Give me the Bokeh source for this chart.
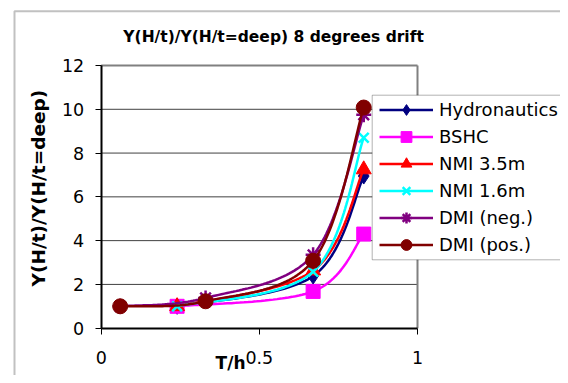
import numpy as np
from bokeh.plotting import figure
from bokeh.models import Range1d, FixedTicker, Legend, LegendItem, BoxAnnotation, Label
from bokeh.embed import file_html
from bokeh.resources import INLINE

# ---- data ----
title_text = "Y(H/t)/Y(H/t=deep) 8 degrees drift"
x_title = "T/h"
y_title = "Y(H/t)/Y(H/t=deep)"
x_ticks = [0, 0.5, 1]
x_tick_labels = ["0", "0.5", "1"]
y_ticks = [0, 2, 4, 6, 8, 10, 12]
x_lo, x_hi = 0, 1
y_lo, y_hi = 0, 12

names = ["Hydronautics", "BSHC", "NMI 3.5m", "NMI 1.6m", "DMI (neg.)", "DMI (pos.)"]
hydro_x = [0.24, 0.67, 0.83]
hydro_y = [1.0, 2.38, 6.95]
bshc_x = [0.24, 0.67, 0.83]
bshc_y = [1.0, 1.68, 4.3]
nmi35_x = [0.24, 0.67, 0.83]
nmi35_y = [1.0, 2.63, 7.25]
nmi16_x = [0.24, 0.67, 0.83]
nmi16_y = [1.0, 2.58, 8.7]
dmineg_x = [0.06, 0.33, 0.67, 0.83]
dmineg_y = [1.0, 1.38, 3.35, 9.75]
dmipos_x = [0.06, 0.33, 0.67, 0.83]
dmipos_y = [1.0, 1.23, 3.08, 10.08]

FONT = "DejaVu Sans"
W, H = 560, 375
# pixel placement of the plot area
PX0, PX1 = 100.7, 417.0      # x = 0 and x = 1
PY0, PY1 = 327.7, 65.0       # y = 0 and y = 12 (from top)
kx = (PX1 - PX0) / (x_hi - x_lo)
ky = (PY0 - PY1) / (y_hi - y_lo)
xr = Range1d(x_lo - PX0 / kx, x_lo + (W - PX0) / kx)
yr = Range1d(y_lo - (H - PY0) / ky, y_lo + PY0 / ky)


def smooth(xs, ys, n=40):
    P = np.column_stack([xs, ys]).astype(float)
    m = len(P)
    pts = [P[0]]
    t = np.linspace(0, 1, n)[1:][:, None]
    for i in range(m - 1):
        p0 = P[i - 1] if i > 0 else P[i]
        p1, p2 = P[i], P[i + 1]
        p3 = P[i + 2] if i + 2 < m else P[i + 1]
        c1 = p1 + (p2 - p0) / 6.0
        c2 = p2 - (p3 - p1) / 6.0
        seg = ((1 - t) ** 3) * p1 + 3 * ((1 - t) ** 2) * t * c1 + 3 * (1 - t) * t ** 2 * c2 + t ** 3 * p2
        pts.extend(seg)
    pts = np.array(pts)
    return pts[:, 0], pts[:, 1]


p = figure(width=W, height=H, output_backend="svg", toolbar_location=None,
           x_range=xr, y_range=yr, min_border=0)
p.background_fill_color = "white"
p.border_fill_color = "white"
p.outline_line_color = None
p.xgrid.grid_line_color = None
p.ygrid.grid_line_color = None

p.xaxis.ticker = FixedTicker(ticks=x_ticks)
p.xaxis.major_label_overrides = {t: l for t, l in zip(x_ticks, x_tick_labels)}
p.yaxis.ticker = FixedTicker(ticks=y_ticks)
p.xaxis.fixed_location = y_lo
p.yaxis.fixed_location = x_lo
p.xaxis.bounds = (x_lo, x_hi)
p.yaxis.bounds = (y_lo, y_hi)
for ax in (p.xaxis, p.yaxis):
    ax.axis_line_color = "black"
    ax.axis_line_width = 2
    ax.major_tick_line_color = "black"
    ax.major_tick_line_width = 1
    ax.major_tick_out = 6
    ax.major_tick_in = 0
    ax.minor_tick_line_color = None
    ax.major_label_text_font = FONT
    ax.major_label_text_font_size = "17.5px"
    ax.major_label_text_color = "black"
p.xaxis.major_label_standoff = 17
p.yaxis.major_label_standoff = 11

# outer chart border (screen units from frame bottom-left)
p.add_layout(BoxAnnotation(left=14, right=900, top=H - 10.7, bottom=-300,
                           left_units="screen", right_units="screen", top_units="screen", bottom_units="screen",
                           fill_alpha=0, line_color="#333333", line_width=2))

# horizontal gridlines and plot-area border
inner = [v for v in y_ticks if y_lo < v < y_hi]
p.segment(x0=[x_lo] * len(inner), y0=inner, x1=[x_hi] * len(inner), y1=inner,
          line_color="#404040", line_width=1)
p.segment(x0=[x_lo, x_hi], y0=[y_hi, y_lo], x1=[x_hi, x_hi], y1=[y_hi, y_hi],
          line_color="#808080", line_width=2)

series = [
    (hydro_x, hydro_y, "#000080", "diamond", 16),
    (bshc_x, bshc_y, "#FF00FF", "square", 14),
    (nmi35_x, nmi35_y, "#FF0000", "triangle", 15),
    (nmi16_x, nmi16_y, "#00FFFF", "x", 14),
    (dmineg_x, dmineg_y, "#800080", "asterisk", 15),
    (dmipos_x, dmipos_y, "#800000", "circle", 15),
]
items = []
for name, (xs, ys, col, mk, sz) in zip(names, series):
    sx, sy = smooth(xs, ys)
    lr = p.line(sx, sy, line_color=col, line_width=2.5)
    if mk in ("x", "asterisk"):
        sr = p.scatter(xs, ys, marker=mk, size=sz, line_color=col, line_width=2.5)
    else:
        sr = p.scatter(xs, ys, marker=mk, size=sz, fill_color=col, line_color=col)
    items.append(LegendItem(label=name, renderers=[lr, sr]))

# legend box
p.add_layout(BoxAnnotation(left=371.7, right=900, top=H - 94.7, bottom=H - 259.3,
                           left_units="screen", right_units="screen", top_units="screen", bottom_units="screen",
                           fill_color="white", fill_alpha=1, line_color="black", line_width=1))

legend = Legend(items=items, location=(379, H - 257.8), padding=0, margin=0, spacing=0,
                glyph_width=54, glyph_height=27, label_height=27, label_standoff=6,
                label_text_font=FONT, label_text_font_size="18px", label_text_color="black",
                border_line_alpha=0, background_fill_alpha=0)
p.add_layout(legend, "center")

p.add_layout(Label(x=0.545, y=13.28, text=title_text, text_align="center", text_baseline="middle",
                   text_font=FONT, text_font_style="bold", text_font_size="15.5px", text_color="black"))
p.add_layout(Label(x=-0.198, y=6.4, text=y_title, angle=np.pi / 2, text_align="center", text_baseline="middle",
                   text_font=FONT, text_font_style="bold", text_font_size="18.5px", text_color="black"))
p.add_layout(Label(x=0.409, y=-1.61, text=x_title, text_align="center", text_baseline="middle",
                   text_font=FONT, text_font_style="bold", text_font_size="17px", text_color="black"))

open("out.html", "w").write(file_html(p, INLINE))
